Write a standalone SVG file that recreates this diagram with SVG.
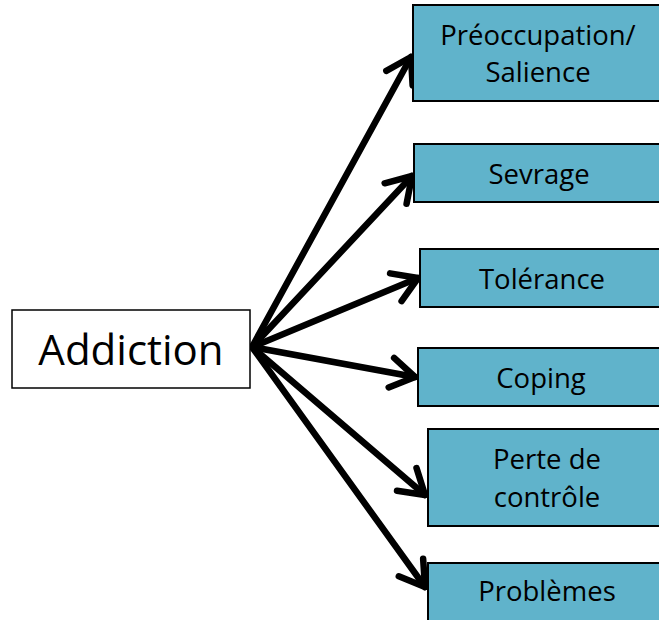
<svg xmlns="http://www.w3.org/2000/svg" width="659" height="620" viewBox="0 0 659 620">
<defs>
<style>
.box{fill:#60B3CB;stroke:#000;stroke-width:2}
.src{fill:#fff;stroke:#000;stroke-width:1.5}
.t{font-family:"Open Sans","Noto Sans",sans-serif;font-size:27.5px;fill:#000;text-anchor:middle}
.big{font-size:42px}
.c{stroke:#000;stroke-width:6.5;fill:none;stroke-linecap:round}
</style>
<marker id="ah" markerUnits="userSpaceOnUse" markerWidth="60" markerHeight="60" viewBox="-40 -30 60 60" refX="0" refY="0" orient="auto">
<path d="M-24,-15 L0,0 L-24,15" fill="none" stroke="#000" stroke-width="6.5" stroke-linecap="round" stroke-linejoin="round"/>
</marker>
</defs>
<rect width="659" height="620" fill="#fff"/>
<g id="connectors">
<line class="c" x1="252" y1="347" x2="411" y2="57" marker-end="url(#ah)"/>
<line class="c" x1="252" y1="347" x2="412" y2="176" marker-end="url(#ah)"/>
<line class="c" x1="252" y1="347" x2="418" y2="278" marker-end="url(#ah)"/>
<line class="c" x1="252" y1="347" x2="415" y2="377" marker-end="url(#ah)"/>
<line class="c" x1="252" y1="347" x2="425" y2="495" marker-end="url(#ah)"/>
<line class="c" x1="252" y1="347" x2="425" y2="587" marker-end="url(#ah)"/>
</g>
<g id="addiction">
<rect class="src" x="12" y="310" width="238" height="78"/>
<text class="t big" x="131" y="365">Addiction</text>
</g>
<g id="preoccupation">
<rect class="box" x="413" y="5" width="260" height="96"/>
<text class="t" x="538" y="45">Préoccupation/</text>
<text class="t" x="538" y="82">Salience</text>
</g>
<g id="sevrage">
<rect class="box" x="414" y="144" width="260" height="58"/>
<text class="t" x="539" y="184">Sevrage</text>
</g>
<g id="tolerance">
<rect class="box" x="420" y="249" width="260" height="58"/>
<text class="t" x="542" y="289">Tolérance</text>
</g>
<g id="coping">
<rect class="box" x="418" y="348" width="260" height="58"/>
<text class="t" x="541" y="388">Coping</text>
</g>
<g id="perte">
<rect class="box" x="428" y="429" width="260" height="97"/>
<text class="t" x="547" y="469">Perte de</text>
<text class="t" x="547" y="507">contrôle</text>
</g>
<g id="problemes">
<rect class="box" x="428" y="563" width="260" height="80"/>
<text class="t" x="547" y="601">Problèmes</text>
</g>
</svg>
